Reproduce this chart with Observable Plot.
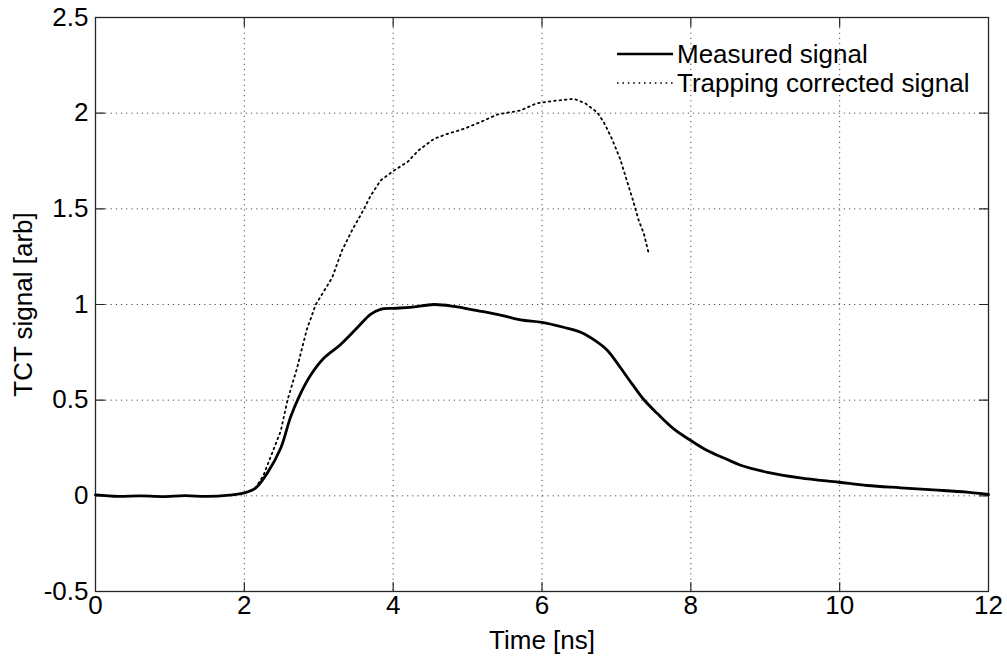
<!DOCTYPE html>
<html><head><meta charset="utf-8">
<script src="https://cdn.jsdelivr.net/npm/d3@7"></script>
<script src="https://cdn.jsdelivr.net/npm/@observablehq/plot@0.6"></script>
<style>
body{margin:0;background:#fff;}
#wrap{position:relative;width:1007px;height:656px;font-family:"Liberation Sans",Arial,Helvetica,sans-serif;}
#legend{position:absolute;left:615px;top:39px;font-size:26px;color:#000;line-height:1;}
.row{display:flex;align-items:center;height:29px;white-space:nowrap;}
.row svg{width:60px;height:10px;margin-right:2px;}
#chart svg{display:block;}
</style></head><body>
<div id="wrap"><div id="chart"></div><div id="legend"></div></div>
<script>
const seriesNames = ["Measured signal", "Trapping corrected signal"];
const measuredTime = [0, 0.3, 0.6, 0.9, 1.2, 1.5, 1.8, 2.0, 2.15, 2.31, 2.49, 2.62, 2.75, 2.89, 3.07, 3.29, 3.52, 3.70, 3.83, 4.01, 4.23, 4.55, 4.82, 5.13, 5.44, 5.71, 6.0, 6.29, 6.52, 6.72, 6.88, 7.05, 7.21, 7.37, 7.55, 7.77, 8.0, 8.22, 8.49, 8.67, 9.03, 9.47, 9.99, 10.37, 10.82, 11.26, 11.71, 12.0];
const measuredSignal = [0.005, -0.003, 0.0, -0.004, 0.001, -0.003, 0.004, 0.015, 0.04, 0.12, 0.25, 0.41, 0.53, 0.63, 0.72, 0.79, 0.88, 0.95, 0.975, 0.98, 0.985, 1.0, 0.99, 0.968, 0.945, 0.92, 0.907, 0.881, 0.855, 0.81, 0.76, 0.672, 0.585, 0.502, 0.43, 0.35, 0.289, 0.237, 0.19, 0.16, 0.123, 0.094, 0.071, 0.054, 0.042, 0.031, 0.019, 0.007];
const correctedTime = [2.15, 2.26, 2.35, 2.49, 2.58, 2.71, 2.84, 2.96, 3.07, 3.18, 3.31, 3.45, 3.56, 3.70, 3.83, 4.01, 4.19, 4.34, 4.55, 4.73, 4.95, 5.17, 5.40, 5.71, 5.93, 6.20, 6.43, 6.58, 6.74, 6.83, 6.94, 7.05, 7.14, 7.23, 7.30, 7.37, 7.43];
const correctedSignal = [0.04, 0.11, 0.20, 0.34, 0.50, 0.67, 0.87, 1.0, 1.07, 1.14, 1.28, 1.39, 1.465, 1.57, 1.648, 1.70, 1.744, 1.805, 1.866, 1.892, 1.918, 1.953, 1.993, 2.014, 2.052, 2.066, 2.075, 2.052, 2.005, 1.953, 1.866, 1.761, 1.648, 1.535, 1.439, 1.369, 1.273];
const xTicks = [0, 2, 4, 6, 8, 10, 12];
const yTicks = [-0.5, 0, 0.5, 1, 1.5, 2, 2.5];

const measured = measuredTime.map((t, i) => ({t, v: measuredSignal[i]}));
const corrected = correctedTime.map((t, i) => ({t, v: correctedSignal[i]}));
const xIn = xTicks.slice(1, -1), yIn = yTicks.slice(1, -1);
const tickShape = {draw(ctx, l) { ctx.moveTo(0, 0); ctx.lineTo(0, -l); }};
const tickOpts = {length: 9, anchor: "start", shape: tickShape, stroke: "#262626", strokeWidth: 1.2};
const gridStyle = {stroke: "#000", strokeOpacity: 0.7, strokeWidth: 1, strokeDasharray: "1.2,4"};
const fmt = d => String(d);

const chart = Plot.plot({
  width: 1007, height: 656,
  marginLeft: 95, marginRight: 19, marginTop: 17, marginBottom: 65,
  style: {fontFamily: '"Liberation Sans",Arial,Helvetica,sans-serif', fontSize: "26px", color: "#000", background: "#fff", overflow: "visible"},
  x: {domain: [0, 12]},
  y: {domain: [-0.5, 2.5]},
  marks: [
    Plot.gridX(xIn, gridStyle),
    Plot.gridY(yIn, gridStyle),
    Plot.axisX(xTicks, {anchor: "bottom", tickSize: 0, tickPadding: 4, tickFormat: fmt, label: "Time [ns]", labelAnchor: "center", labelArrow: "none", labelOffset: 57}),
    Plot.axisY(yTicks, {anchor: "left", tickSize: 0, tickPadding: 7, tickFormat: fmt, label: "TCT signal [arb]", labelAnchor: "center", labelArrow: "none", labelOffset: 82}),
    Plot.vector(xIn, {...tickOpts, x: d => d, y: -0.5, rotate: 0}),
    Plot.vector(xIn, {...tickOpts, x: d => d, y: 2.5, rotate: 180}),
    Plot.vector(yIn, {...tickOpts, x: 0, y: d => d, rotate: 90}),
    Plot.vector(yIn, {...tickOpts, x: 12, y: d => d, rotate: 270}),
    Plot.frame({stroke: "#262626", strokeWidth: 1.3}),
    Plot.line(corrected, {x: "t", y: "v", stroke: "#000", strokeWidth: 1.8, strokeDasharray: "1.6,3.8", curve: "linear"}),
    Plot.line(measured, {x: "t", y: "v", stroke: "#000", strokeWidth: 2.8, curve: "catmull-rom"})
  ]
});
document.getElementById("chart").appendChild(chart);

const legend = document.getElementById("legend");
const dashes = [null, "1.6,3.8"];
seriesNames.forEach((name, i) => {
  const row = document.createElement("div");
  row.className = "row";
  row.innerHTML = `<svg viewBox="0 0 60 10"><line x1="2" x2="58" y1="5" y2="5" stroke="#000" stroke-width="${i ? 1.6 : 2.4}" ${dashes[i] ? `stroke-dasharray="${dashes[i]}"` : ""}/></svg><span>${name}</span>`;
  legend.appendChild(row);
});
</script>
</body></html>
